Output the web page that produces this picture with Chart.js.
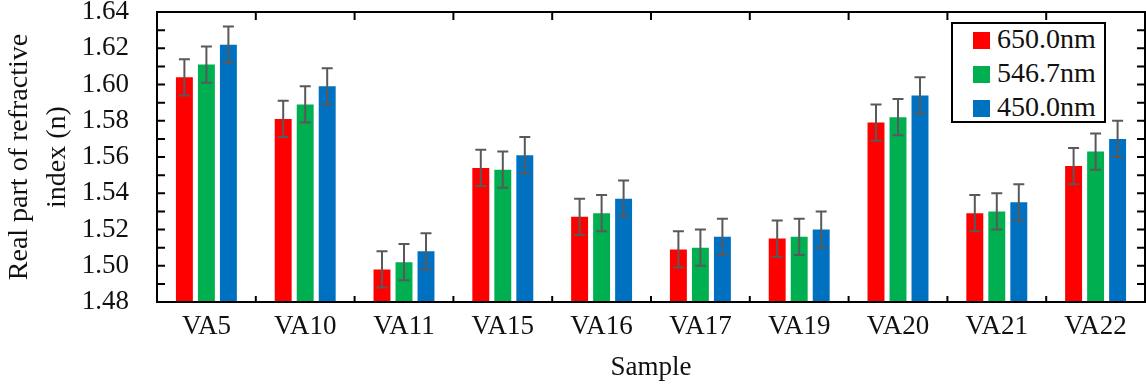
<!DOCTYPE html>
<html>
<head>
<meta charset="utf-8">
<script src="https://cdn.jsdelivr.net/npm/chart.js@4.4.0/dist/chart.umd.min.js"></script>
<style>
    body { margin: 0; background: #fff; }
    #wrap { position: relative; width: 1146px; height: 387px; }
    #legend {
        position: absolute; left: 951px; top: 22px; width: 151px; height: 97px;
        border: 2px solid #000; background: #fff;
        font-family: 'Liberation Serif', serif; font-size: 28px; color: #111;
    }
    .item { position: absolute; left: 20px; height: 28px; line-height: 28px; white-space: nowrap; }
    .sw { display: inline-block; width: 17px; height: 17px; margin-right: 7px; vertical-align: -1px; }
</style>
</head>
<body>
<div id="wrap">
    <canvas id="chart" width="1146" height="387"></canvas>
    <div id="legend"></div>
</div>
<script>
// Sample names on the x axis
const samples = ['VA5', 'VA10', 'VA11', 'VA15', 'VA16', 'VA17', 'VA19', 'VA20', 'VA21', 'VA22'];

// Real part of refractive index per wavelength
const n650 = [1.604, 1.581, 1.498, 1.554, 1.527, 1.509, 1.515, 1.579, 1.529, 1.555];
const n547 = [1.611, 1.589, 1.502, 1.553, 1.529, 1.510, 1.516, 1.582, 1.530, 1.563];
const n450 = [1.622, 1.599, 1.508, 1.561, 1.537, 1.516, 1.520, 1.594, 1.535, 1.570];

// Error bar half-widths
const err650 = [0.010, 0.010, 0.010, 0.010, 0.010, 0.010, 0.010, 0.010, 0.010, 0.010];
const err547 = [0.010, 0.010, 0.010, 0.010, 0.010, 0.010, 0.010, 0.010, 0.010, 0.010];
const err450 = [0.010, 0.010, 0.010, 0.010, 0.010, 0.010, 0.010, 0.010, 0.010, 0.010];

// Major y tick labels
const yTicks = [1.48, 1.50, 1.52, 1.54, 1.56, 1.58, 1.60, 1.62, 1.64];

const seriesLabels = ['650.0nm', '546.7nm', '450.0nm'];
const colors = ['#ff0000', '#00b050', '#0070c0'];
const errors = [err650, err547, err450];

const fontFamily = "'Liberation Serif', 'Times New Roman', serif";
const textColor = '#111';

// Error bars drawn from the y scale
const errorBars = {
    id: 'errorBars',
    afterDatasetsDraw(chart) {
        const ctx = chart.ctx;
        const y = chart.scales.y;
        ctx.save();
        ctx.strokeStyle = '#595959';
        ctx.lineWidth = 2;
        chart.data.datasets.forEach((ds, di) => {
            const meta = chart.getDatasetMeta(di);
            meta.data.forEach((bar, i) => {
                const e = errors[di][i];
                const yTop = y.getPixelForValue(ds.data[i] + e);
                const yBot = y.getPixelForValue(ds.data[i] - e);
                const cap = 5.5;
                ctx.beginPath();
                ctx.moveTo(bar.x, yTop); ctx.lineTo(bar.x, yBot);
                ctx.moveTo(bar.x - cap, yTop); ctx.lineTo(bar.x + cap, yTop);
                ctx.moveTo(bar.x - cap, yBot); ctx.lineTo(bar.x + cap, yBot);
                ctx.stroke();
            });
        });
        ctx.restore();
    }
};

// Box frame with inward ticks
const frame = {
    id: 'frame',
    afterDatasetsDraw(chart) {
        const ctx = chart.ctx;
        const a = chart.chartArea;
        const x = chart.scales.x;
        const y = chart.scales.y;
        ctx.save();
        ctx.strokeStyle = '#000';
        ctx.lineWidth = 2;
        ctx.strokeRect(a.left, a.top, a.right - a.left, a.bottom - a.top);
        ctx.beginPath();
        // y ticks, major and minor, both sides
        for (let k = 0; k < yTicks.length; k++) {
            const vals = [yTicks[k]];
            if (k < yTicks.length - 1) vals.push((yTicks[k] + yTicks[k + 1]) / 2);
            vals.forEach(v => {
                const py = y.getPixelForValue(v);
                ctx.moveTo(a.left, py); ctx.lineTo(a.left + 8, py);
                ctx.moveTo(a.right, py); ctx.lineTo(a.right - 8, py);
            });
        }
        // category boundary ticks
        for (let i = 1; i < samples.length; i++) {
            const px = (x.getPixelForValue(i - 1) + x.getPixelForValue(i)) / 2;
            ctx.moveTo(px, a.top); ctx.lineTo(px, a.top + 8);
            ctx.moveTo(px, a.bottom); ctx.lineTo(px, a.bottom - 6);
        }
        ctx.stroke();
        ctx.restore();
    }
};

new Chart(document.getElementById('chart'), {
    type: 'bar',
    data: {
        labels: samples,
        datasets: [n650, n547, n450].map((d, i) => ({
            label: seriesLabels[i],
            data: d,
            backgroundColor: colors[i],
            borderWidth: 0,
            categoryPercentage: 0.668,
            barPercentage: 0.77
        }))
    },
    options: {
        responsive: false,
        animation: false,
        layout: { padding: { top: 12, right: 1, left: 0, bottom: 0 } },
        plugins: {
            legend: { display: false },
            tooltip: { enabled: false }
        },
        scales: {
            x: {
                grid: { display: false, drawTicks: false },
                border: { display: false },
                ticks: {
                    font: { family: fontFamily, size: 27 },
                    color: textColor,
                    padding: 9,
                    maxRotation: 0
                },
                title: {
                    display: true,
                    text: 'Sample',
                    font: { family: fontFamily, size: 27 },
                    color: textColor,
                    padding: { top: 0, bottom: 3 }
                },
                afterFit(scale) {
                    scale.height = 85;
                    scale.paddingLeft = 0;
                    scale.paddingRight = 0;
                }
            },
            y: {
                min: 1.48,
                max: 1.64,
                grid: { display: false, drawTicks: false },
                border: { display: false },
                afterBuildTicks(scale) {
                    scale.ticks = yTicks.map(v => ({ value: v }));
                },
                ticks: {
                    autoSkip: false,
                    font: { family: fontFamily, size: 27 },
                    color: textColor,
                    padding: 28,
                    callback: v => v.toFixed(2)
                },
                title: {
                    display: true,
                    text: ['Real part of refractive', 'index (n)'],
                    font: { family: fontFamily, size: 28, lineHeight: 1.36 },
                    color: textColor,
                    padding: { top: 1, bottom: 0 }
                },
                afterFit(scale) {
                    scale.width = 157;
                    scale.paddingTop = 0;
                    scale.paddingBottom = 0;
                }
            }
        }
    },
    plugins: [errorBars, frame]
});

// Legend box inside the plot
const legend = document.getElementById('legend');
const rowCenters = [15, 49, 83];
seriesLabels.forEach((label, i) => {
    const item = document.createElement('div');
    item.className = 'item';
    item.style.top = (rowCenters[i] - 14) + 'px';
    item.innerHTML = '<span class="sw" style="background:' + colors[i] + '"></span>' + label;
    legend.appendChild(item);
});
</script>
</body>
</html>
